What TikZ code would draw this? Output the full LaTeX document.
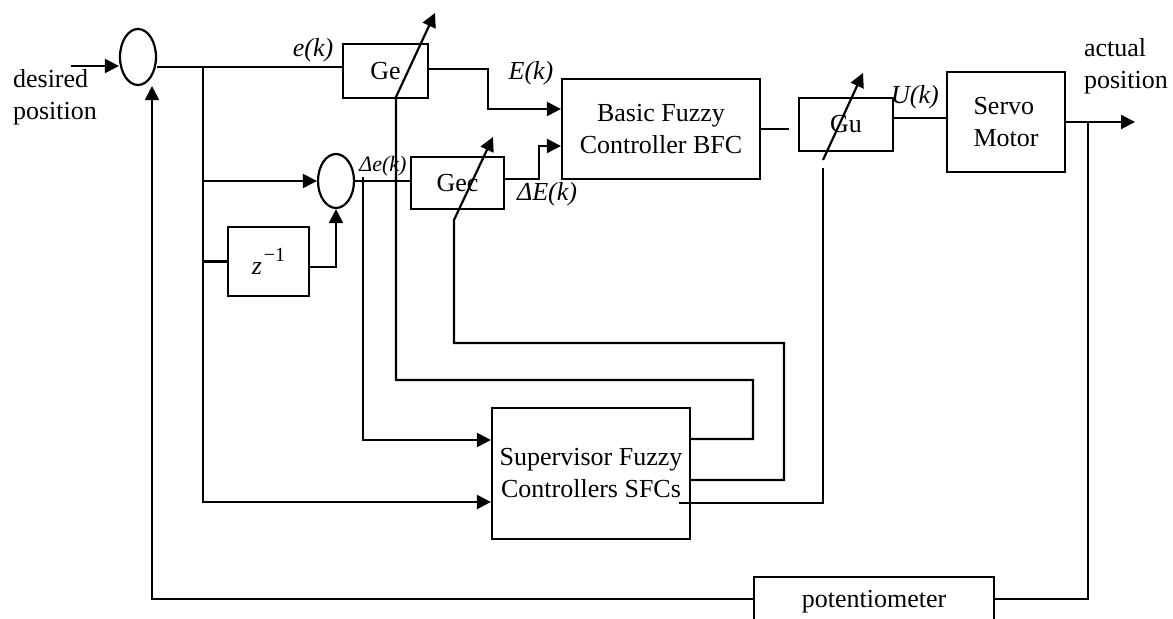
\documentclass[tikz,border=0pt]{standalone}
\usepackage{fontspec}
\setmainfont{Liberation Serif}
\usetikzlibrary{shapes.geometric}
\usetikzlibrary{arrows.meta}
\tikzset{
    block/.style={draw, rectangle, inner sep=0pt, align=center},
    summer/.style={draw, ellipse, inner sep=0pt, minimum width=18pt},
    arr/.style={-{Triangle[length=7pt,width=7pt]}},
    sig/.style={font=\fontsize{13}{16}\selectfont\itshape, inner sep=0pt},
    txt/.style={font=\fontsize{13}{16}\selectfont, align=left, anchor=west, inner sep=0pt}
}

\begin{document}
\begin{tikzpicture}[x=0.5pt, y=-0.5pt, line width=1.1pt, font=\fontsize{13}{16}\selectfont]
    \clip (0,0) rectangle (1173,619);

    \node[summer, minimum height=28pt] (SUM1) at (138,57) {};
    \node[summer, minimum height=27pt] (SUM2) at (336,181) {};

    \node[block, minimum width=42.5pt, minimum height=27pt] (GE) at (385.5,71) {Ge};
    \node[block, minimum width=46.5pt, minimum height=26pt] (GEC) at (457.5,183) {Gec};
    \node[block, minimum width=40.5pt, minimum height=34.5pt] (ZINV) at (268.5,261.5)
        {\textit{z}\kern1pt\raisebox{1.1ex}{\fontsize{10}{12}\selectfont −1}};
    \node[block, minimum width=99pt, minimum height=50pt] (BFC) at (661,129) {Basic Fuzzy\\Controller BFC};
    \node[block, minimum width=47pt, minimum height=26.5pt] (GU) at (846,124.5) {Gu};
    \node[block, minimum width=59pt, minimum height=50pt, align=left] (SERVO) at (1006,122) {Servo\\Motor};
    \node[block, minimum width=99pt, minimum height=65.5pt] (SFC) at (591,473.5) {Supervisor Fuzzy\\Controllers SFCs};
    \node[block, minimum width=120pt, minimum height=25pt] (POT) at (874,602) {potentiometer};

    \node[txt] (DESIRED) at (12,97) {desired\\position};
    \node[txt] (ACTUAL) at (1083,66) {actual\\position};
    \node[sig] (EK) at (313,50) {e(k)};
    \node[sig] (EBIG) at (531,73) {E(k)};
    \node[sig, font=\fontsize{11}{13}\selectfont\itshape] (DEK) at (383,166) {Δe(k)};
    \node[sig] (DEBIG) at (547,194) {ΔE(k)};
    \node[sig] (UK) at (915,97) {U(k)};

    \coordinate (IN) at (71,66);
    \coordinate (OUT) at (1135,122);
    \coordinate (E1) at (203,67);
    \coordinate (E2) at (363,177);
    \coordinate (Y1) at (1088,122);
    \coordinate (GETIP) at (435,13);
    \coordinate (GECTIP) at (493,137);
    \coordinate (GUFOOT) at (823,160);
    \coordinate (GUTIP) at (863,73);

    % forward path
    \draw[arr] (IN) -- (IN -| SUM1.west);
    \draw (SUM1.east |- E1) -- (E1 -| GE.west);
    \draw[arr] (GE.east |- 0,69) -- (488,69) |- (BFC.west |- 0,109);
    \draw (SUM2.east) -- (SUM2.east -| GEC.west);
    \draw[arr] (GEC.east |- 0,179) -- (539,179) |- (BFC.west |- 0,146);
    \draw[shorten >=4.5pt] (BFC.east) -- (BFC.east -| GU.west);
    \draw (GU.east |- 0,118) -- (SERVO.west |- 0,118);
    \draw[arr] (SERVO.east) -- (OUT);

    % error branches
    \draw[arr] (E1) |- (SFC.west |- 0,502);
    \draw[arr] (E1 |- SUM2) -- (SUM2.west);
    \draw (E1 |- ZINV) -- (ZINV.west);
    \draw[arr] (ZINV.east |- 0,267) -| (SUM2.south);
    \draw[arr] (E2) |- (SFC.west |- 0,440);

    % feedback
    \draw (Y1) |- (POT.east |- 0,599);
    \draw[arr] (POT.west |- 0,599) -| (SUM1.south -| 152,0);

    % supervisor outputs
    \draw[arr] (SFC.east |- 0,439) -| (753,380) -| (396,97) -- (GETIP);
    \draw[arr] (SFC.east |- 0,480) -| (784,343) -| (454,220) -- (GECTIP);
    \draw (679,503) -| (823,168);
    \draw[arr] (GUFOOT) -- (GUTIP);
\end{tikzpicture}
\end{document}
